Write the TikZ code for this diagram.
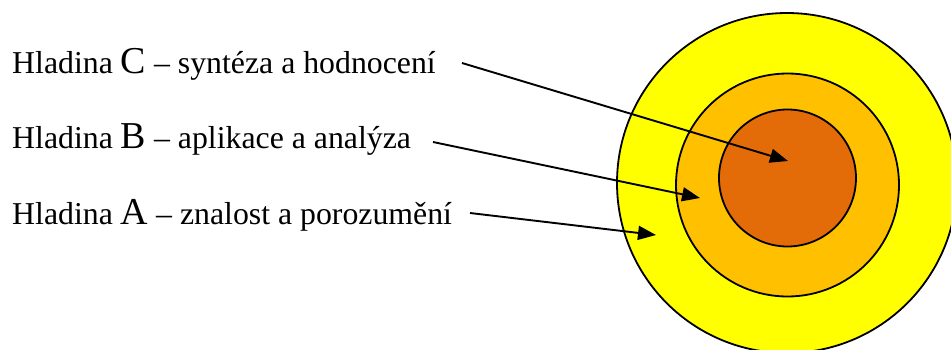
\documentclass[tikz,border=0pt]{standalone}
\usepackage{fontspec}
\setmainfont{Liberation Serif}
\usepackage{xcolor}
\usetikzlibrary{arrows.meta}
\definecolor{vrstvaA}{HTML}{FFFF00}
\definecolor{vrstvaB}{HTML}{FFC000}
\definecolor{vrstvaC}{HTML}{E36C09}
\newcommand{\hl}[1]{{\fontsize{38}{40}\selectfont #1}}
\begin{document}
\begin{tikzpicture}[x=1pt,y=-1pt,
	popis/.style={anchor=base west,inner sep=0pt,font=\fontsize{31.8}{36}\selectfont},
	sipka/.style={line width=1.9pt,-{Triangle[length=18pt,width=14pt]}}]
	\useasboundingbox (0,0) rectangle (951,349);
	
	% kruhy
	\filldraw[fill=vrstvaA,line width=1.8pt] (787,183) circle (170);
	\filldraw[fill=vrstvaB,line width=1.8pt] (787.5,185) circle (111.5);
	\filldraw[fill=vrstvaC,line width=1.8pt] (787.5,178) circle (68.5);
	
	% popisky
	\node[popis] (labC) at (12,73) {Hladina \hl{C} -- syntéza a hodnocení};
	\node[popis] (labB) at (12,148) {Hladina \hl{B} -- aplikace a analýza};
	\node[popis] (labA) at (12,224) {Hladina \hl{A} -- znalost a porozumění};
	
	\coordinate (sC) at (462,63);
	\coordinate (tC) at (788,161);
	\coordinate (sB) at (433,142);
	\coordinate (tB) at (700,198);
	\coordinate (sA) at (470,213);
	\coordinate (tA) at (656,235);
	
	\draw[sipka] (sC) -- (tC);
	\draw[sipka] (sB) -- (tB);
	\draw[sipka] (sA) -- (tA);
\end{tikzpicture}
\end{document}
